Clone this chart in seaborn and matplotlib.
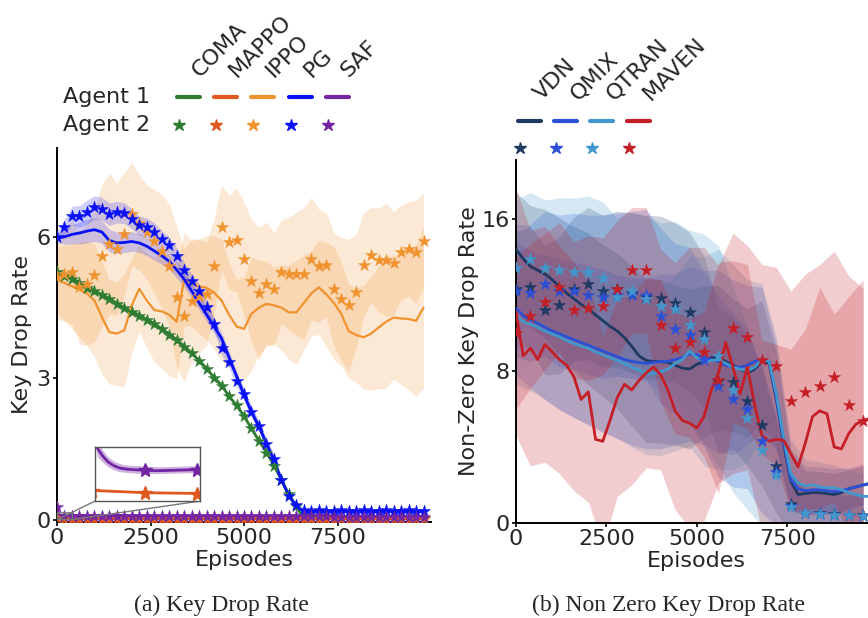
import numpy as np
import matplotlib
matplotlib.use("Agg")
import matplotlib.pyplot as plt
from matplotlib.lines import Line2D
import seaborn as sns

# ---------------- data ----------------
# left panel: every 200 episodes (0 .. 9800)
ep_200 = np.arange(0, 9801, 200)
# right panel agent-2 markers: every 400 episodes (0 .. 9600)
ep_400 = np.arange(0, 9601, 400)

left_methods = ["COMA", "MAPPO", "IPPO", "PG", "SAF"]
left_colors = ["#2e7d32", "#e0581f", "#f0922e", "#0a10f5", "#7425a3"]

coma_a1 = [5.27, 5.19, 5.12, 5.03, 4.93, 4.86, 4.77, 4.69, 4.59, 4.50,
           4.42, 4.34, 4.25, 4.16, 4.05, 3.94, 3.82, 3.68, 3.54, 3.38,
           3.21, 3.02, 2.86, 2.62, 2.43, 2.20, 1.94, 1.68, 1.44, 1.16,
           0.85, 0.53, 0.26, 0.08, 0.05, 0.04, 0.04, 0.04, 0.04, 0.04,
           0.04, 0.04, 0.04, 0.04, 0.04, 0.04, 0.04, 0.04, 0.04, 0.04]
coma_a2 = [5.25, 5.17, 5.11, 5.02, 4.92, 4.85, 4.76, 4.68, 4.58, 4.49,
           4.41, 4.33, 4.24, 4.15, 4.04, 3.93, 3.81, 3.67, 3.53, 3.37,
           3.20, 3.01, 2.85, 2.62, 2.43, 2.21, 1.95, 1.67, 1.42, 1.14,
           0.85, 0.55, 0.30, 0.10, 0.06, 0.05, 0.05, 0.05, 0.05, 0.05,
           0.05, 0.05, 0.05, 0.05, 0.05, 0.05, 0.05, 0.05, 0.05, 0.05]

mappo_a1 = [0.040, 0.034, 0.032, 0.031, 0.031, 0.030, 0.030, 0.030, 0.029, 0.029,
            0.029, 0.029, 0.029, 0.028, 0.028, 0.028, 0.028, 0.028, 0.028, 0.027,
            0.027, 0.027, 0.027, 0.027, 0.027, 0.026, 0.026, 0.026, 0.026, 0.026,
            0.026, 0.026, 0.025, 0.025, 0.025, 0.025, 0.025, 0.025, 0.025, 0.025,
            0.024, 0.024, 0.024, 0.024, 0.024, 0.024, 0.024, 0.024, 0.024, 0.024]
mappo_a2 = [0.038, 0.033, 0.030, 0.030, 0.029, 0.029, 0.029, 0.028, 0.028, 0.028,
            0.028, 0.028, 0.027, 0.027, 0.027, 0.027, 0.027, 0.027, 0.026, 0.026,
            0.026, 0.026, 0.026, 0.026, 0.026, 0.025, 0.025, 0.025, 0.025, 0.025,
            0.025, 0.025, 0.025, 0.024, 0.024, 0.024, 0.024, 0.024, 0.024, 0.024,
            0.024, 0.024, 0.023, 0.023, 0.023, 0.023, 0.023, 0.023, 0.023, 0.023]

ippo_a1 = [5.10, 5.02, 4.95, 4.88, 4.80, 4.65, 4.30, 3.98, 3.95, 4.02,
           4.55, 4.90, 4.65, 4.45, 4.42, 4.35, 4.20, 5.10, 5.02, 4.95,
           4.92, 4.82, 4.65, 4.35, 4.10, 4.05, 4.37, 4.50, 4.58, 4.55,
           4.50, 4.40, 4.40, 4.60, 4.80, 4.93, 4.78, 4.60, 4.37, 4.00,
           3.92, 3.87, 3.95, 4.08, 4.20, 4.29, 4.27, 4.26, 4.22, 4.50]
ippo_a1_sd = [0.7, 0.8, 0.9, 1.0, 1.1, 1.2, 1.2, 1.1, 1.1, 1.2,
              1.0, 0.9, 1.0, 1.1, 1.2, 1.3, 1.2, 1.0, 0.9, 1.0,
              1.1, 1.2, 1.3, 1.1, 1.0, 1.1, 1.2, 1.0, 0.9, 0.8,
              0.9, 1.0, 1.1, 1.0, 0.9, 1.0, 1.1, 1.2, 1.1, 1.0,
              1.0, 1.1, 1.2, 1.3, 1.4, 1.3, 1.4, 1.5, 1.6, 1.7]
ippo_a2 = [5.15, 5.21, 5.25, 4.93, 5.00, 5.18, 5.60, 5.85, 5.74, 6.06,
           6.48, 6.30, 6.10, 5.90, 5.70, 5.39, 4.72, 4.33, 4.65, 4.75,
           4.79, 5.39, 6.20, 5.88, 5.93, 5.53, 5.07, 4.80, 5.01, 4.89,
           5.26, 5.21, 5.22, 5.22, 5.53, 5.39, 5.41, 4.89, 4.68, 4.55,
           4.84, 5.41, 5.62, 5.51, 5.51, 5.44, 5.67, 5.74, 5.68, 5.92]
ippo_a2_sd = [0.9, 1.0, 1.1, 1.2, 1.3, 1.4, 1.5, 1.5, 1.4, 1.3,
              1.1, 1.0, 1.0, 1.1, 1.2, 1.3, 1.5, 1.4, 1.3, 1.2,
              1.1, 1.0, 0.9, 1.0, 1.1, 1.2, 1.3, 1.4, 1.3, 1.2,
              1.1, 1.2, 1.3, 1.4, 1.3, 1.2, 1.1, 1.2, 1.3, 1.4,
              1.2, 1.1, 1.0, 1.1, 1.2, 1.1, 1.0, 1.0, 1.1, 1.0]

pg_a1 = [5.97, 6.00, 6.05, 6.08, 6.12, 6.15, 6.10, 5.92, 5.87, 5.88,
         5.90, 5.87, 5.80, 5.70, 5.60, 5.48, 5.30, 5.10, 4.85, 4.60,
         4.35, 4.10, 3.85, 3.45, 3.05, 2.65, 2.29, 1.98, 1.62, 1.27,
         0.85, 0.52, 0.30, 0.18, 0.17, 0.18, 0.18, 0.17, 0.18, 0.18,
         0.17, 0.18, 0.18, 0.17, 0.18, 0.18, 0.17, 0.18, 0.18, 0.18]
pg_a2 = [6.00, 6.20, 6.45, 6.43, 6.52, 6.62, 6.59, 6.48, 6.52, 6.50,
         6.38, 6.24, 6.20, 6.11, 5.95, 5.82, 5.60, 5.30, 5.06, 4.85,
         4.52, 4.15, 3.64, 3.35, 2.95, 2.68, 2.29, 2.00, 1.62, 1.30,
         0.85, 0.52, 0.32, 0.21, 0.20, 0.21, 0.20, 0.20, 0.21, 0.20,
         0.20, 0.21, 0.20, 0.20, 0.21, 0.20, 0.20, 0.21, 0.20, 0.20]
pg_sd = [0.10, 0.16, 0.20, 0.23, 0.25, 0.25, 0.24, 0.24, 0.23, 0.22,
         0.21, 0.20, 0.20, 0.19, 0.18, 0.17, 0.17, 0.16, 0.15, 0.15,
         0.14, 0.14, 0.13, 0.13, 0.12, 0.12, 0.11, 0.10, 0.10, 0.09,
         0.08, 0.06, 0.05, 0.04, 0.03, 0.03, 0.03, 0.03, 0.03, 0.03,
         0.03, 0.03, 0.03, 0.03, 0.03, 0.03, 0.03, 0.03, 0.03, 0.03]

# SAF agent 1 is logged more densely at the start (visible in the inset)
saf_ep = [0, 20, 40, 60, 80, 100, 120, 150, 200, 250, 300, 350, 400,
          1000, 2000, 3000, 4000, 5000, 6000, 7000, 8000, 9000, 9800]
saf_a1 = [0.300, 0.150, 0.130, 0.115, 0.106, 0.100, 0.097, 0.095, 0.093, 0.092,
          0.093, 0.094, 0.095, 0.090, 0.086, 0.082, 0.080, 0.077, 0.075, 0.073,
          0.072, 0.071, 0.070]
saf_a1_sd = [0.050, 0.022, 0.016, 0.013, 0.012, 0.011, 0.010, 0.010, 0.010, 0.009,
             0.009, 0.009, 0.009, 0.008, 0.008, 0.008, 0.007, 0.007, 0.007, 0.007,
             0.007, 0.007, 0.007]
saf_a2 = [0.280, 0.093, 0.095, 0.092, 0.091, 0.090, 0.090, 0.089, 0.088, 0.088,
          0.087, 0.087, 0.086, 0.086, 0.085, 0.085, 0.084, 0.084, 0.083, 0.083,
          0.082, 0.082, 0.081, 0.081, 0.080, 0.080, 0.080, 0.079, 0.079, 0.079,
          0.078, 0.078, 0.078, 0.077, 0.077, 0.077, 0.077, 0.076, 0.076, 0.076,
          0.076, 0.075, 0.075, 0.075, 0.075, 0.075, 0.074, 0.074, 0.074, 0.074]

# right panel
right_methods = ["VDN", "QMIX", "QTRAN", "MAVEN"]
right_colors = ["#1f3a62", "#2b50d6", "#4298cc", "#c41f27"]

vdn_a1 = [14.4, 13.9, 13.5, 13.3, 13.1, 12.8, 12.45, 12.1, 11.8, 11.5,
          11.25, 10.95, 10.65, 10.35, 10.1, 9.75, 9.3, 8.8, 8.55, 8.5,
          8.5, 8.45, 8.3, 8.15, 8.1, 8.35, 8.5, 8.7, 8.7, 8.5,
          8.3, 8.1, 7.9, 8.1, 8.5, 8.4, 6.5, 4.2, 2.2, 1.5,
          1.55, 1.6, 1.6, 1.55, 1.5, 1.6, 1.8, 1.9, 2.0, 2.1]
qmix_a1 = [11.3, 10.9, 10.7, 10.5, 10.3, 10.1, 9.95, 9.8, 9.65, 9.5,
           9.35, 9.2, 9.05, 8.9, 8.75, 8.6, 8.5, 8.45, 8.4, 8.45,
           8.5, 8.5, 8.6, 8.7, 8.9, 8.85, 8.7, 8.6, 8.5, 8.3,
           8.2, 8.2, 8.3, 8.5, 8.6, 8.5, 6.6, 4.3, 2.3, 1.8,
           1.7, 1.75, 1.75, 1.7, 1.65, 1.7, 1.8, 1.9, 2.0, 2.05]
qtran_a1 = [10.9, 10.6, 10.45, 10.3, 10.1, 9.95, 9.8, 9.6, 9.45, 9.3,
            9.2, 9.0, 8.85, 8.7, 8.55, 8.4, 8.2, 8.05, 7.9, 7.85,
            7.95, 8.1, 8.4, 8.6, 9.05, 8.7, 8.5, 8.55, 8.6, 8.4,
            8.2, 8.1, 8.0, 8.2, 8.6, 8.5, 6.8, 4.5, 2.6, 2.1,
            1.95, 2.0, 1.9, 1.85, 1.85, 1.75, 1.6, 1.5, 1.4, 1.4]
maven_a1 = [11.1, 8.8, 9.2, 8.6, 9.4, 9.0, 8.6, 8.3, 7.7, 6.5,
            6.9, 4.4, 4.3, 5.4, 6.6, 7.3, 7.0, 7.5, 7.9, 8.2,
            7.8, 7.0, 5.9, 5.4, 5.25, 5.0, 5.6, 7.0, 7.9, 9.5,
            8.2, 6.8, 8.2, 6.2, 4.6, 4.3, 4.4, 4.35, 3.65, 2.95,
            4.2, 5.6, 5.9, 5.75, 4.0, 3.9, 4.7, 5.2, 5.4, 5.5]

vdn_a2 = [12.3, 12.4, 11.2, 11.45, 12.3, 12.6, 12.2, 12.3, 12.1, 11.9,
          11.85, 11.6, 11.1, 10.05, 7.45, 7.4, 6.4, 5.15, 3.0, 1.0,
          0.55, 0.5, 0.45, 0.42, 0.4]
qmix_a2 = [12.2, 12.1, 12.6, 12.2, 12.2, 12.0, 11.9, 12.0, 12.0, 12.0,
           10.9, 10.2, 9.9, 8.6, 7.2, 6.5, 6.0, 4.3, 2.7, 0.9,
           0.5, 0.45, 0.4, 0.4, 0.35]
qtran_a2 = [13.4, 13.9, 13.4, 13.3, 13.2, 13.2, 12.9, 11.9, 12.2, 11.8,
            11.4, 11.25, 10.4, 9.7, 8.8, 7.0, 5.5, 3.85, 2.5, 0.85,
            0.5, 0.45, 0.4, 0.4, 0.35]
maven_a2 = [10.0, 10.9, 11.65, 12.4, 11.2, 11.3, 11.4, 12.3, 13.3, 13.3,
            10.4, 9.2, 9.5, 9.0, 7.55, 10.25, 9.8, 8.6, 8.25, 6.4,
            6.9, 7.2, 7.7, 6.2, 5.35]

# band half-widths (every 400 episodes)
vdn_sd = [3.0, 3.2, 3.4, 3.6, 3.8, 4.0, 4.0, 4.1, 4.2, 4.3,
          4.3, 4.2, 4.2, 4.0, 3.8, 3.5, 3.4, 3.2, 2.5, 1.5,
          1.2, 1.1, 1.1, 1.0, 1.0]
qmix_sd = [3.5, 3.6, 3.8, 4.0, 4.1, 4.2, 4.3, 4.3, 4.4, 4.5,
           4.6, 4.5, 4.6, 4.6, 4.8, 4.6, 4.2, 3.8, 2.8, 1.6,
           1.3, 1.2, 1.2, 1.1, 1.1]
qtran_sd = [3.6, 3.5, 3.6, 3.8, 3.9, 4.0, 4.0, 4.1, 4.2, 4.3,
            4.4, 4.6, 5.0, 5.5, 5.8, 5.4, 4.8, 4.0, 3.0, 1.8,
            1.4, 1.3, 1.2, 1.2, 1.2]
maven_a1_sd = [6.5, 6.2, 6.2, 6.0, 6.0, 5.8, 5.5, 5.2, 5.0, 5.0,
               5.0, 5.2, 5.5, 5.5, 5.8, 5.6, 5.4, 5.0, 5.0, 5.5,
               6.0, 6.5, 7.0, 7.2, 7.4]
maven_a2_sd = [4.0, 3.8, 3.6, 3.4, 3.6, 3.8, 3.6, 3.6, 3.3, 3.3,
               4.0, 4.5, 5.0, 5.5, 6.0, 5.0, 4.8, 5.0, 5.2, 5.8,
               6.2, 6.4, 6.6, 6.8, 7.0]

# ---------------- style ----------------
sns.set_theme(style="ticks")
plt.rcParams["font.family"] = ["DejaVu Sans"]
FS = 16

W, H = 868, 618
fig = plt.figure(figsize=(W / 100, H / 100), dpi=100)

ax1 = fig.add_axes([57 / W, 96 / H, 374 / W, 374 / H])
ax2 = fig.add_axes([516 / W, 95 / H, 361.6 / W, 363 / H])


def band(ax, x, mean, sd, color, alpha=0.2):
    mean = np.asarray(mean)
    sd = np.asarray(sd)
    ax.fill_between(x, mean - sd, mean + sd, color=color, alpha=alpha, lw=0)


def stars(ax, x, y, color, s=85):
    sns.scatterplot(x=x, y=y, ax=ax, marker="*", s=s, color=color,
                    edgecolor=color, linewidth=0.3, zorder=4)


# ---------------- left panel ----------------
band(ax1, ep_200, ippo_a1, ippo_a1_sd, left_colors[2], 0.2)
band(ax1, ep_200, ippo_a2, ippo_a2_sd, left_colors[2], 0.2)
band(ax1, ep_200, pg_a1, pg_sd, left_colors[3], 0.2)
band(ax1, ep_200, pg_a2, pg_sd, left_colors[3], 0.2)
band(ax1, saf_ep, saf_a1, saf_a1_sd, left_colors[4], 0.35)

left_a1 = [(ep_200, coma_a1), (ep_200, mappo_a1), (ep_200, ippo_a1),
           (ep_200, pg_a1), (saf_ep, saf_a1)]
left_a2 = [coma_a2, mappo_a2, ippo_a2, pg_a2, saf_a2]
left_lw = [2.0, 1.6, 1.6, 2.0, 2.0]
for (x, y), c, lw in zip(left_a1, left_colors, left_lw):
    sns.lineplot(x=x, y=y, ax=ax1, color=c, linewidth=lw, zorder=3)
for y, c in zip(left_a2, left_colors):
    stars(ax1, ep_200, y, c)

ax1.set_xlim(0, 10000)
ax1.set_ylim(-0.04, 7.88)
ax1.set_yticks([0, 3, 6])
ax1.set_ylabel("Key Drop Rate", fontsize=FS, labelpad=3)

# inset zoom near the origin
axins = ax1.inset_axes([0.1016, 0.056, 0.281, 0.144])
axins.fill_between(saf_ep, np.array(saf_a1) - np.array(saf_a1_sd),
                   np.array(saf_a1) + np.array(saf_a1_sd),
                   color=left_colors[4], alpha=0.35, lw=0)
axins.plot(saf_ep, saf_a1, color=left_colors[4], lw=2)
axins.plot(ep_200, saf_a2, ls="", marker="*", ms=10, color=left_colors[4])
axins.plot(ep_200, mappo_a1, color=left_colors[1], lw=2)
axins.plot(ep_200, mappo_a2, ls="", marker="*", ms=10, color=left_colors[1])
axins.set_xlim(10, 410)
axins.set_ylim(0.012, 0.154)
axins.set_xticks([])
axins.set_yticks([])
for sp in axins.spines.values():
    sp.set_color("#555555")
    sp.set_linewidth(1.0)
ind = ax1.indicate_inset_zoom(axins, edgecolor="#777777", alpha=1.0, lw=1.0)
for i, cn in enumerate(ind.connectors):
    cn.set_visible(i in (0, 2))
    cn.set_color("#777777")

# ---------------- right panel ----------------
right_a1 = [vdn_a1, qmix_a1, qtran_a1, maven_a1]
right_a2 = [vdn_a2, qmix_a2, qtran_a2, maven_a2]
right_sd1 = [vdn_sd, qmix_sd, qtran_sd, maven_a1_sd]
right_sd2 = [vdn_sd, qmix_sd, qtran_sd, maven_a2_sd]
for a1, a2, sd1, sd2, c in zip(right_a1, right_a2, right_sd1, right_sd2,
                               right_colors):
    band(ax2, ep_400, np.asarray(a1)[::2], sd1, c, 0.22)
    band(ax2, ep_400, a2, sd2, c, 0.22)
for a1, c in zip(right_a1, right_colors):
    sns.lineplot(x=ep_200, y=a1, ax=ax2, color=c, linewidth=2.0, zorder=3)
for a2, c in zip(right_a2, right_colors):
    stars(ax2, ep_400, a2, c)

ax2.set_xlim(0, 10000)
ax2.set_ylim(0, 19.1)
ax2.set_yticks([0, 8, 16])
ax2.set_ylabel("Non-Zero Key Drop Rate", fontsize=FS, labelpad=2)

for ax in (ax1, ax2):
    sns.despine(ax=ax)
    ax.set_xticks([0, 2500, 5000, 7500])
    ax.set_xlabel("Episodes", fontsize=FS, labelpad=1)
    ax.tick_params(labelsize=FS, length=3, width=1.2, pad=1.5, color="black")
    for sp in ("left", "bottom"):
        ax.spines[sp].set_color("black")
        ax.spines[sp].set_linewidth(1.4)


# ---------------- custom legends (pixel layout) ----------------
def fx(x):
    return x / W


def fy(y):
    return 1 - y / H


fig.text(fx(150), fy(97), "Agent 1", ha="right", va="center", fontsize=FS)
fig.text(fx(150), fy(125), "Agent 2", ha="right", va="center", fontsize=FS)
left_handle_x = [177, 214, 251, 289, 326]
for x0, c, name in zip(left_handle_x, left_colors, left_methods):
    fig.add_artist(Line2D([fx(x0), fx(x0 + 23)], [fy(97), fy(97)],
                          transform=fig.transFigure, color=c, lw=3))
    fig.add_artist(Line2D([fx(x0 + 2)], [fy(125)], transform=fig.transFigure,
                          color=c, ls="", marker="*", ms=9))
    fig.text(fx(x0 + 23), fy(78), name, rotation=45, rotation_mode="anchor",
             ha="left", va="baseline", fontsize=FS)

right_handle_x = [518, 554, 590, 627]
for x0, c, name in zip(right_handle_x, right_colors, right_methods):
    fig.add_artist(Line2D([fx(x0), fx(x0 + 23)], [fy(121), fy(121)],
                          transform=fig.transFigure, color=c, lw=3))
    fig.add_artist(Line2D([fx(x0 + 2)], [fy(148)], transform=fig.transFigure,
                          color=c, ls="", marker="*", ms=9))
    fig.text(fx(x0 + 24), fy(101), name, rotation=45, rotation_mode="anchor",
             ha="left", va="baseline", fontsize=FS)

# captions
fig.text(fx(221), fy(605), "(a) Key Drop Rate", ha="center", va="center",
         fontsize=17, family=["Liberation Serif"])
fig.text(fx(668), fy(605), "(b) Non Zero Key Drop Rate", ha="center",
         va="center", fontsize=17, family=["Liberation Serif"])

fig.savefig("out.png", dpi=100)
